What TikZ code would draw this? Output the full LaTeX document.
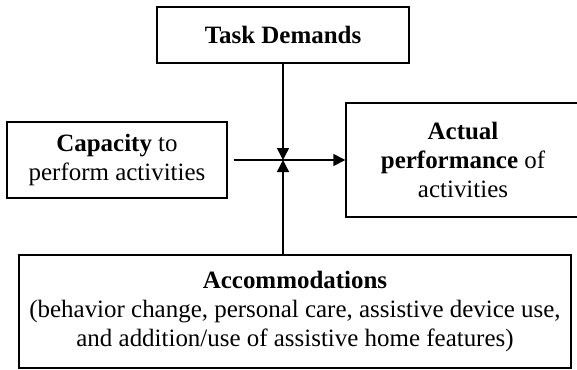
\documentclass[tikz,border=0pt]{standalone}
\usepackage{fontspec}
\setmainfont{Liberation Serif}
\usetikzlibrary{arrows.meta}

\begin{document}
\begin{tikzpicture}[x=0.02cm,y=-0.02cm,
        box/.style={rectangle, draw=black, line width=0.8pt, align=center,
            font=\fontsize{14.2}{16.6}\selectfont},
        link/.style={line width=0.8pt, -{Triangle[length=2.4mm,width=2.4mm]}}]

        \useasboundingbox (0,0) rectangle (577,369);

        \node[box,
            minimum width = 5.04cm,
            minimum height = 1.12cm] (task) at (283,35) {\textbf{Task Demands}};

        \node[box,
            minimum width = 4.4cm,
            minimum height = 1.52cm] (cap) at (117,160) {\textbf{Capacity} to\\perform activities};

        \node[box,
            minimum width = 4.68cm,
            minimum height = 2.28cm] (act) at (463,160) {\textbf{Actual}\\\textbf{performance} of\\activities};

        \node[box,
            minimum width = 11.04cm,
            minimum height = 2.26cm] (acc) at (295,311.5) {\textbf{Accommodations}\\(behavior change, personal care, assistive device use,\\and addition/use of assistive home features)};

        \coordinate (mid) at (task.south |- cap.east);

        \draw[link] (task.south) -- (mid);
        \draw[link] (acc.north -| task.south) -- (mid);
        \draw[link, shorten <=0.12cm] (cap.east) -- (act.west);
    \end{tikzpicture}
\end{document}
